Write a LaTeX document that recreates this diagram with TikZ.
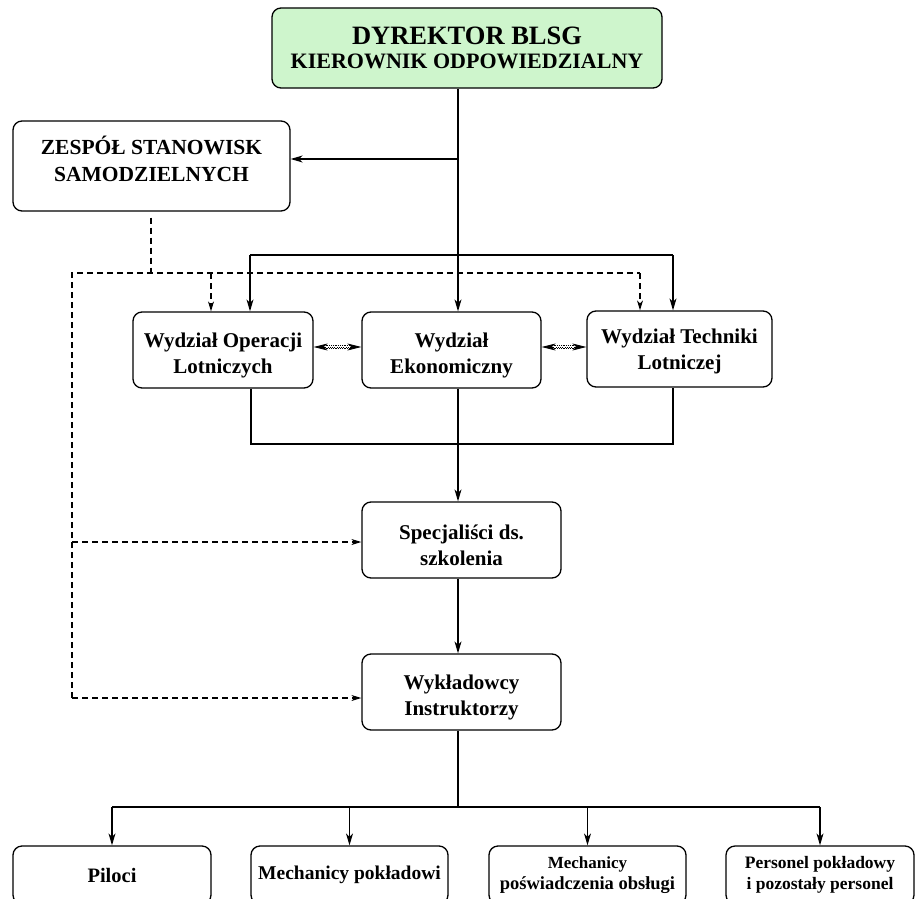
\documentclass[tikz,border=0pt]{standalone}
\usepackage{fontspec}
\setmainfont{Liberation Serif}
\usetikzlibrary{arrows.meta}
\definecolor{mint}{RGB}{206,245,204}
% strut that lowers a two-line label inside its box
\newcommand{\lowstrut}[1]{\rule{0pt}{#1pt}}
\tikzset{
  box/.style={draw, line width=1.3pt, rounded corners=9pt, align=center,
    inner sep=2pt, font=\bfseries\fontsize{21}{26}\selectfont},
  smallbox/.style={box, font=\bfseries\fontsize{17.5}{21}\selectfont},
  conn/.style={line width=1.2pt},
  arr/.style={conn, -{Stealth[length=12pt,width=7pt,inset=3.5pt]}},
  dsh/.style={line width=1.1pt, dash pattern=on 6pt off 4pt},
  darr/.style={dsh, -{Stealth[length=10pt,width=6pt,inset=3pt]}},
  twintip/.style={line width=0.8pt,
    {Stealth[length=14pt,width=7pt,inset=4pt]}-{Stealth[length=14pt,width=7pt,inset=4pt]}},
  twinmid/.style={densely dotted, line width=0.8pt, double=white, double distance=1.6pt}
}
\begin{document}
\begin{tikzpicture}[x=1pt,y=-1pt]
\clip (0,0) rectangle (918,899);
\fill[white] (0,0) rectangle (918,899);

% ---- boxes ----
\node[box, fill=mint, minimum width=390pt, minimum height=80pt, font=\bfseries\fontsize{22}{25}\selectfont] (dir) at (467,48)
  {{\fontsize{26.5}{25}\selectfont DYREKTOR BLSG}\\[-1pt]KIEROWNIK ODPOWIEDZIALNY};
\node[box, minimum width=277pt, minimum height=90pt,
  label={[font=\bfseries\fontsize{21.5}{27}\selectfont, align=center, yshift=7pt]center:ZESPÓŁ STANOWISK\\SAMODZIELNYCH}]
  (zsp) at (151.5,166) {};

\node[box, minimum width=180pt, minimum height=76pt] (ope) at (223,350) {\lowstrut{26}Wydział Operacji\\Lotniczych};
\node[box, minimum width=179pt, minimum height=76pt] (eko) at (451.5,350) {\lowstrut{26}Wydział\\Ekonomiczny};
\node[box, minimum width=185pt, minimum height=76pt] (tec) at (679.5,349) {\lowstrut{19}Wydział Techniki\\Lotniczej};

\node[box, minimum width=199pt, minimum height=76pt] (spe) at (461.5,540) {\lowstrut{26}Specjaliści ds.\\szkolenia};
\node[box, minimum width=199pt, minimum height=76pt] (wyk) at (461.5,692) {\lowstrut{26}Wykładowcy\\Instruktorzy};

\node[box, font=\bfseries\fontsize{20.5}{23}\selectfont, minimum width=198pt, minimum height=58pt] (pil) at (112,875) {Piloci};
\node[box, font=\bfseries\fontsize{19.5}{23}\selectfont, minimum width=197pt, minimum height=58pt] (mec) at (349.5,875) {Mechanicy pokładowi};
\node[smallbox, font=\bfseries\fontsize{18.5}{21}\selectfont, minimum width=197pt, minimum height=58pt] (pos) at (587.5,875) {{\fontsize{17}{21}\selectfont Mechanicy}\\poświadczenia obsługi};
\node[smallbox, minimum width=188pt, minimum height=58pt] (per) at (820,875) {Personel pokładowy\\i pozostały personel};

% ---- guide coordinates ----
\coordinate (sp) at (458,0);
\coordinate (zb) at (458,159);
\coordinate (hl) at (250,255);
\coordinate (hr) at (673,255);
\coordinate (dl) at (72,273);
\coordinate (dz) at (151,273);
\coordinate (do) at (211,273);
\coordinate (dt) at (640,273);
\coordinate (ds) at (72,542);
\coordinate (dw) at (72,698);
\coordinate (lo) at (251,444);
\coordinate (lt) at (673,444);
\coordinate (tw) at (0,347);
\coordinate (bb) at (458,807);

% ---- solid connectors ----
\draw[arr] (dir.south -| sp) -- (eko.north -| sp);
\draw[arr] (zb) -- (zb -| zsp.east);
\draw[conn] (hl) -- (hr);
\draw[arr] (hl) -- (ope.north -| hl);
\draw[arr] (hr) -- (tec.north -| hr);

\draw[conn] (ope.south -| lo) -- (lo) -- (lt) -- (tec.south -| lt);
\draw[arr] (eko.south -| sp) -- (spe.north -| sp);
\draw[arr] (spe.south -| sp) -- (wyk.north -| sp);

\draw[conn] (wyk.south -| sp) -- (bb);
\draw[conn] (bb -| pil) -- (bb -| per);
\foreach \n in {pil,mec,pos,per}
  \draw[arr] (bb -| \n) -- (\n.north);

% ---- dashed connectors ----
\draw[dsh] ([yshift=-6pt]zsp.south -| dz) -- (dz);
\draw[dsh] (dw) -- (dl) -- (dt);
\draw[darr] (do) -- (ope.north -| do);
\draw[darr] (dt) -- (tec.north -| dt);
\draw[darr] (ds) -- (ds -| spe.west);
\draw[darr] (dw) -- (dw -| wyk.west);

% ---- two-way links between departments ----
\foreach \a/\b in {ope/eko, eko/tec} {
  \draw[twintip] (\a.east |- tw) -- (\b.west |- tw);
  \draw[twinmid] ([xshift=12pt]\a.east |- tw) -- ([xshift=-12pt]\b.west |- tw);
}
\end{tikzpicture}
\end{document}
